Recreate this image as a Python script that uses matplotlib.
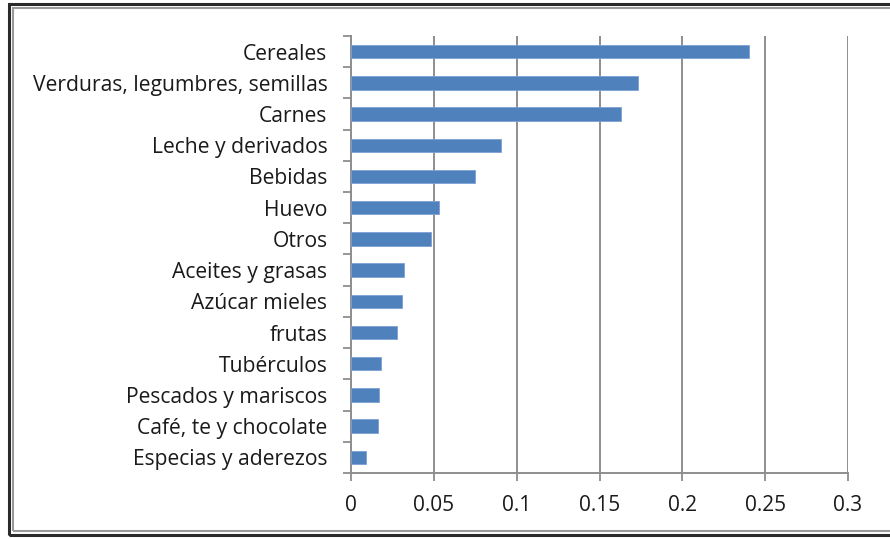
import numpy as np
import matplotlib.pyplot as plt
from matplotlib.patches import Rectangle

# categories, top to bottom
categorias = ['Cereales', 'Verduras, legumbres, semillas', 'Carnes', 'Leche y derivados',
              'Bebidas', 'Huevo', 'Otros', 'Aceites y grasas', 'Azúcar mieles', 'frutas',
              'Tubérculos', 'Pescados y mariscos', 'Café, te y chocolate', 'Especias y aderezos']
valores = [0.240, 0.173, 0.163, 0.0905, 0.075, 0.053, 0.048, 0.032, 0.031, 0.028,
           0.018, 0.017, 0.016, 0.009]
xticks = [0, 0.05, 0.1, 0.15, 0.2, 0.25, 0.3]
xlabels = ['0', '0.05', '0.1', '0.15', '0.2', '0.25', '0.3']

plt.rcParams['font.family'] = ['Open Sans', 'DejaVu Sans']
gris = '#8e8e8e'

fig = plt.figure(figsize=(8.9, 5.39), dpi=100)
ax = fig.add_axes([351 / 890, 1 - 473 / 539, 497 / 890, 437 / 539])

n = len(categorias)
y = np.arange(n)[::-1]
ax.barh(y, valores, height=0.43, color='#4f81bd', edgecolor='#7da1d4', linewidth=0.6, zorder=3)

ax.set_xlim(0, 0.3)
ax.set_ylim(-0.5, n - 0.5)
ax.set_xticks(xticks)
ax.set_xticklabels(xlabels, fontsize=15, color='#1a1a1a')
ax.set_yticks(y)
ax.set_yticklabels(categorias, fontsize=15.2, color='#1a1a1a')
ax.set_yticks(np.arange(n + 1) - 0.5, minor=True)

ax.tick_params(axis='y', which='major', length=0, pad=17)
ax.tick_params(axis='y', which='minor', length=6, width=1.3, color=gris)
ax.tick_params(axis='x', length=6, width=1.3, color=gris, pad=10)

ax.grid(axis='x', color=gris, linewidth=1.4, zorder=0)
for s in ['top', 'right']:
    ax.spines[s].set_visible(False)
for s in ['left', 'bottom']:
    ax.spines[s].set_color(gris)
    ax.spines[s].set_linewidth(1.4)

# screenshot frame
fig.patches.append(Rectangle((9 / 890, 4 / 539), 900 / 890, 531 / 539, transform=fig.transFigure,
                             fill=False, edgecolor='#2a2a2a', linewidth=2.2))
fig.patches.append(Rectangle((13 / 890, 8 / 539), 900 / 890, 523 / 539, transform=fig.transFigure,
                             fill=False, edgecolor='#9a9a9a', linewidth=1.5))

fig.savefig('out.png', dpi=100)
